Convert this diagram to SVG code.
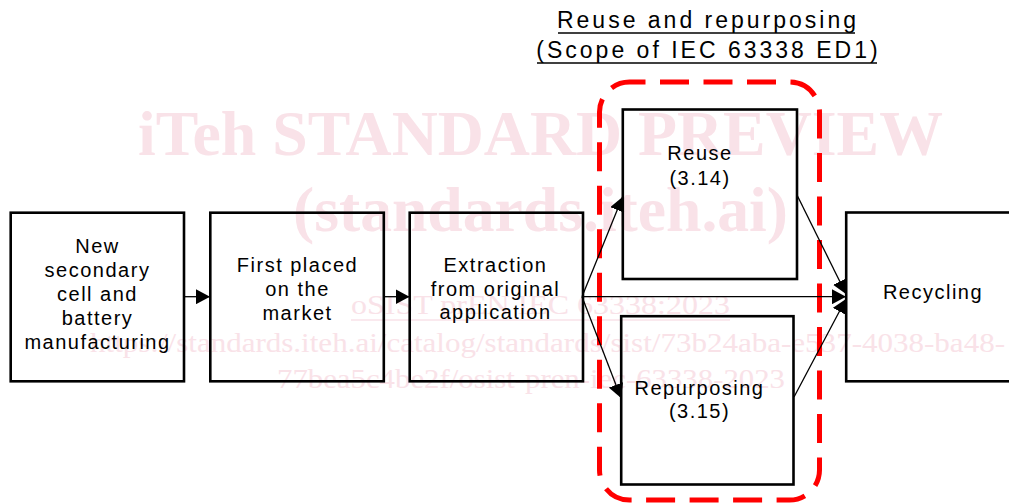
<svg xmlns="http://www.w3.org/2000/svg" width="1009" height="504" viewBox="0 0 1009 504">
<style>
.wm{fill:#f9e2e8;font-family:"Liberation Serif","Times New Roman",serif}
.wb{font-weight:bold;font-size:63px}
.ws{font-size:27px}
.box{fill:none;stroke:#000;stroke-width:2.6}
.t{font-family:"Liberation Sans",Arial,sans-serif;font-size:20px;letter-spacing:1.5px;fill:#000;text-anchor:middle}
.title{font-family:"Liberation Sans",Arial,sans-serif;font-size:23px;letter-spacing:3px;fill:#000;text-anchor:middle}
.c{fill:none;stroke:#000;stroke-width:1.3;marker-end:url(#ah)}
</style>
<defs>
<marker id="ah" markerUnits="userSpaceOnUse" markerWidth="15" markerHeight="15" refX="14" refY="7.5" orient="auto" viewBox="0 0 15 15">
<path d="M0,0 L14,7.5 L0,15 z" fill="#000"/>
</marker>
</defs>
<rect width="1009" height="504" fill="#fff"/>
<g id="watermark">
<text class="wm wb" x="138" y="155" textLength="805" lengthAdjust="spacingAndGlyphs">iTeh STANDARD PREVIEW</text>
<text class="wm wb" x="293" y="231" textLength="495" lengthAdjust="spacingAndGlyphs">(standards.iteh.ai)</text>
<text class="wm ws" x="351" y="314" textLength="379" lengthAdjust="spacingAndGlyphs">oSIST prEN IEC 63338:2023</text>
<line x1="351" y1="320" x2="730" y2="320" stroke="#f9e2e8" stroke-width="1.5"/>
<text class="wm ws" x="90" y="352" textLength="915" lengthAdjust="spacingAndGlyphs">https://standards.iteh.ai/catalog/standards/sist/73b24aba-e537-4038-ba48-</text>
<text class="wm ws" x="277" y="388" textLength="508" lengthAdjust="spacingAndGlyphs">77bea5c4be2f/osist-pren-iec-63338-2023</text>
</g>
<g id="title">
<text class="title" x="708" y="28">Reuse and repurposing</text>
<line x1="558" y1="33" x2="855" y2="33" stroke="#000" stroke-width="1.6"/>
<text class="title" x="708.5" y="58">(Scope of IEC 63338 ED1)</text>
<line x1="537" y1="63" x2="877" y2="63" stroke="#000" stroke-width="1.6"/>
</g>
<g id="scope">
<rect x="599.5" y="82" width="220" height="418" rx="30" ry="30" fill="none" stroke="#ff0000" stroke-width="5" stroke-dasharray="29 14.5" stroke-dashoffset="13"/>
</g>
<g id="connectors">
<path class="c" d="M184,296.7 L210,296.7"/>
<path class="c" d="M384,296.7 L409.5,296.7"/>
<path class="c" d="M582,296.7 L846,296.7"/>
<path class="c" d="M582,296.7 L622.5,197"/>
<path class="c" d="M582,296.7 L621,398"/>
<path class="c" d="M797,195 L846,294"/>
<path class="c" d="M794,397 L846,299"/>
</g>
<g id="n1">
<rect class="box" x="10.7" y="212.7" width="173.3" height="168.6"/>
<text class="t" x="97.5" y="253">New</text>
<text class="t" x="97.5" y="277">secondary</text>
<text class="t" x="97.5" y="301">cell and</text>
<text class="t" x="97.5" y="325">battery</text>
<text class="t" x="97.5" y="349">manufacturing</text>
</g>
<g id="n2">
<rect class="box" x="210.3" y="212.7" width="173.5" height="168.6"/>
<text class="t" x="297.5" y="272">First placed</text>
<text class="t" x="297.5" y="296">on the</text>
<text class="t" x="297.5" y="320">market</text>
</g>
<g id="n3">
<rect class="box" x="409.7" y="212.7" width="173.3" height="168.6"/>
<text class="t" x="495.5" y="272">Extraction</text>
<text class="t" x="495.5" y="295.5">from original</text>
<text class="t" x="495.5" y="319">application</text>
</g>
<g id="n4">
<rect class="box" x="622.8" y="109.5" width="174.2" height="169.5"/>
<text class="t" x="700" y="160">Reuse</text>
<text class="t" x="700" y="185">(3.14)</text>
</g>
<g id="n5">
<rect class="box" x="621.2" y="316.2" width="172.3" height="168.3"/>
<text class="t" x="699.5" y="395">Repurposing</text>
<text class="t" x="699.5" y="418">(3.15)</text>
</g>
<g id="n6">
<rect class="box" x="846.2" y="212.5" width="180" height="168.8"/>
<text class="t" x="933" y="299">Recycling</text>
</g>
</svg>
